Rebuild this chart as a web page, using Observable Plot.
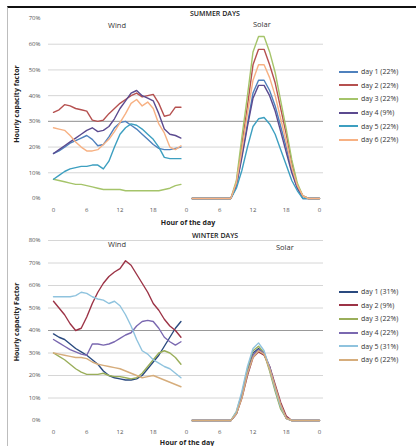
<!DOCTYPE html>
<html>
<head>
<meta charset="utf-8">
<script src="https://cdn.jsdelivr.net/npm/d3@7"></script>
<script src="https://cdn.jsdelivr.net/npm/@observablehq/plot@0.6"></script>
<style>
  html, body { margin: 0; padding: 0; background: #fff; }
  #page { position: relative; width: 416px; height: 446px; overflow: hidden; font-family: "Open Sans", "Liberation Sans", sans-serif; }
  #frame { position: absolute; left: 7px; top: 6px; width: 409px; height: 440px; border-top: 2px solid #111; border-left: 1px solid #bdbdbd; box-sizing: border-box; }
  .panel { position: absolute; left: 0; }
  .txt { position: absolute; white-space: nowrap; color: #222; line-height: 1; }
  .title { font-size: 7px; font-weight: 600; }
  .sub { font-size: 7.5px; color: #333; }
  .axlab { font-size: 7px; font-weight: 700; color: #222; transform: translate(-50%, -50%); }
  .ylab { font-size: 7px; font-weight: 700; color: #222; transform: translate(-50%, -50%) rotate(-90deg); }
  .legend { position: absolute; left: 339px; font-size: 7px; color: #333; }
  .legend .row { display: flex; align-items: center; height: 13.6px; }
  .legend .sw { display: inline-block; width: 19px; height: 2px; margin-right: 3px; }
</style>
</head>
<body>
<div id="page">
  <div id="frame"></div>
  <div id="top" class="panel" style="top:8px"></div>
  <div id="bottom" class="panel" style="top:228px"></div>
  <div class="txt title" style="left:190px; top:10px;">SUMMER DAYS</div>
  <div class="txt sub" style="left:253px; top:21px;">Solar</div>
  <div class="txt sub" style="left:108px; top:22px;">Wind</div>
  <div class="txt axlab" style="left:188px; top:222px;">Hour of the day</div>
  <div class="txt ylab" style="left:16px; top:104px;">Hourly capacity factor</div>
  <div class="txt title" style="left:192px; top:232px;">WINTER DAYS</div>
  <div class="txt sub" style="left:276px; top:244px;">Solar</div>
  <div class="txt sub" style="left:108px; top:241px;">Wind</div>
  <div class="txt axlab" style="left:187px; top:442px;">Hour of the day</div>
  <div class="txt ylab" style="left:16px; top:322px;">Hourly capacity Factor</div>
  <div id="legTop" class="legend" style="top:65px"></div>
  <div id="legBottom" class="legend" style="top:285px"></div>
</div>
<script>
// ---- categories / tick labels ----
const windHours = [0,1,2,3,4,5,6,7,8,9,10,11,12,13,14,15,16,17,18,19,20,21,22,23];
const solarHours = [1,2,3,4,5,6,7,8,9,10,11,12,13,14,15,16,17,18,19,20,21,22,23,24];
const xTicks = [0,6,12,18,24,30,36,42,48];
const summerYTicks = [0,0.1,0.2,0.3,0.4,0.5,0.6,0.7];
const winterYTicks = [0,0.1,0.2,0.3,0.4,0.5,0.6,0.7,0.8];
const summerGrid = [0.1,0.2,0.3,0.4,0.5,0.6];
const winterGrid = [0.1,0.2,0.3,0.4,0.5,0.6,0.7,0.8];
const summerDarkGrid = [0.3];
const winterDarkGrid = [0.4];
const summerLabels = ["day 1 (22%)","day 2 (22%)","day 3 (22%)","day 4 (9%)","day 5 (22%)","day 6 (22%)"];
const winterLabels = ["day 1 (31%)","day 2 (9%)","day 3 (22%)","day 4 (22%)","day 5 (31%)","day 6 (22%)"];
const summerColors = ["#4f81bd","#b5504f","#a5c46a","#5b4a8f","#3d9fc0","#f7b183"];
const winterColors = ["#2a4a7f","#9c3346","#9aae5a","#7a68b0","#8fc3de","#d6ad7c"];

// ---- series values (% capacity factor), rows = days 1..6 ----
const summerWind = [
  [17.5,18.5,20,21.5,22.5,23.5,24.5,23,20.5,21,24,27.5,29.5,30,28.5,27,25,23,21,19.5,19,19,19.5,20],
  [33.5,34.5,36.5,36,35,34.5,34,30.5,30,30.5,33,35,37,38.5,40,41,39.5,40,40.5,37,32,32.5,35.5,35.5],
  [7.5,7,6.5,6,5.5,5.5,5,4.5,4,3.5,3.5,3.5,3.5,3,3,3,3,3,3,3,3.5,4,5,5.5],
  [17.5,19,20.5,22,23.5,25,26.5,27.5,26,26.5,28,31,35,38,41,42,40,39,38,33,27,25,24.5,23.5],
  [7.5,9,10.5,11.5,12,12.5,12.5,13,13,11.5,14.5,20,25,27.5,29,28.5,27,25,23,20,16,15.5,15.5,15.5],
  [27.5,27,26.5,24.5,22,20,18.5,18.5,19,21,23,26,29.5,33,37,38.5,36,37.5,35,29,25.5,20,19,20.5]
];
const summerSolar = [
  [0,0,0,0,0,0,0,0,5,17,29,41,46,46,42,36,28,20,11,4,1,0,0,0],
  [0,0,0,0,0,0,0,0,6,21,36,52,58,58,52,45,35,25,14,5,1,0,0,0],
  [0,0,0,0,0,0,0,0,7,24,40,57,63,63,57,49,38,27,15,6,1,0,0,0],
  [0,0,0,0,0,0,0,0,5,16,28,39,44,44,40,34,26,18,10,4,0,0,0,0],
  [0,0,0,0,0,0,0,0,4,11,20,28,31,31.5,29,25,19,13,7,3,0,0,0,0],
  [0,0,0,0,0,0,0,0,6,19,33,46,52,52,47,40,31,22,12,5,1,0,0,0]
];
const winterWind = [
  [38.5,37,36,34,32,30.5,29,27,25,22,20,19,18.5,18,18,18.5,20,23,26,29,33,37,41,44],
  [53,50,47,43,40,41,46,52,57,61,64,66,67.5,71,69,65,61,57,52,49,45,42,40,37],
  [30,28.5,27,25,23,21.5,20.5,20.5,20.5,21,20,19.5,19.5,19,18.5,19,21,24,27,30,31,30,28,25],
  [36,34.5,33,31.5,30.5,29.5,29,34,34,33.5,34,35,36.5,38,39,42,44,44.5,44,41,37,35,33.5,35],
  [55,55,55,55,55.5,57,56.5,55,54,53.5,52,53,51,47,42,36,31,29.5,27,25.5,24,23,21,19],
  [30,29.5,29,28.5,28,28,27.5,26,25,24.5,24,23.5,23,22,21,20,19,19.5,20,19,18,17,16,15]
];
const winterSolar = [
  [0,0,0,0,0,0,0,0,3,11,22,30,32,30,23,14,6,1,0,0,0,0,0,0],
  [0,0,0,0,0,0,0,0,3,10,20,28,30.5,29,24,16,8,2,0,0,0,0,0,0],
  [0,0,0,0,0,0,0,0,4,12,23,31,33,30,22,13,5,1,0,0,0,0,0,0],
  [0,0,0,0,0,0,0,0,3,11,21,29,31.5,30,24,15,7,1,0,0,0,0,0,0],
  [0,0,0,0,0,0,0,0,4,13,24,32,34.5,31,23,14,6,1,0,0,0,0,0,0],
  [0,0,0,0,0,0,0,0,3,10,21,28,31,29.5,23,15,7,1,0,0,0,0,0,0]
];

function rows(wind, solar, labels) {
  const out = [];
  labels.forEach((lab, i) => {
    windHours.forEach((h, j) => out.push({x: h, y: wind[i][j] / 100, day: lab, seg: "wind"}));
    solarHours.forEach((s, j) => out.push({x: 24 + s, y: solar[i][j] / 100, day: lab, seg: "solar"}));
  });
  return out;
}

function chart(data, yTicks, grid, darkGrid, labels, colors, height, marginTop, marginBottom) {
  return Plot.plot({
    width: 416, height, marginLeft: 48, marginRight: 93, marginTop, marginBottom,
    insetLeft: 5, insetRight: 4,
    style: {fontFamily: "'Open Sans', 'Liberation Sans', sans-serif", fontSize: "6px", color: "#555", background: "transparent"},
    x: {domain: [0, 48], ticks: xTicks, tickFormat: d => String(d % 24), tickSize: 0, tickPadding: 9, label: null},
    y: {domain: [0, yTicks[yTicks.length - 1]], ticks: yTicks, tickFormat: d3.format(".0%"), tickSize: 0, tickPadding: 8, label: null},
    color: {domain: labels, range: colors},
    marks: [
      Plot.ruleY(grid, {stroke: "#d6d6d6", strokeWidth: 1}),
      Plot.ruleY(darkGrid, {stroke: "#999999", strokeWidth: 1}),
      Plot.line(data, {x: "x", y: "y", z: d => d.day + d.seg, stroke: "day", strokeWidth: 1.4, curve: "linear"})
    ]
  });
}

document.getElementById("top").appendChild(
  chart(rows(summerWind, summerSolar, summerLabels), summerYTicks, summerGrid, summerDarkGrid, summerLabels, summerColors, 212, 10, 22));
document.getElementById("bottom").appendChild(
  chart(rows(winterWind, winterSolar, winterLabels), winterYTicks, winterGrid, winterDarkGrid, winterLabels, winterColors, 210, 12, 18));

function legend(id, labels, colors) {
  const el = document.getElementById(id);
  labels.forEach((lab, i) => {
    const r = document.createElement("div"); r.className = "row";
    const sw = document.createElement("span"); sw.className = "sw"; sw.style.background = colors[i];
    const t = document.createElement("span"); t.textContent = lab;
    r.appendChild(sw); r.appendChild(t); el.appendChild(r);
  });
}
legend("legTop", summerLabels, summerColors);
legend("legBottom", winterLabels, winterColors);
</script>
</body>
</html>
